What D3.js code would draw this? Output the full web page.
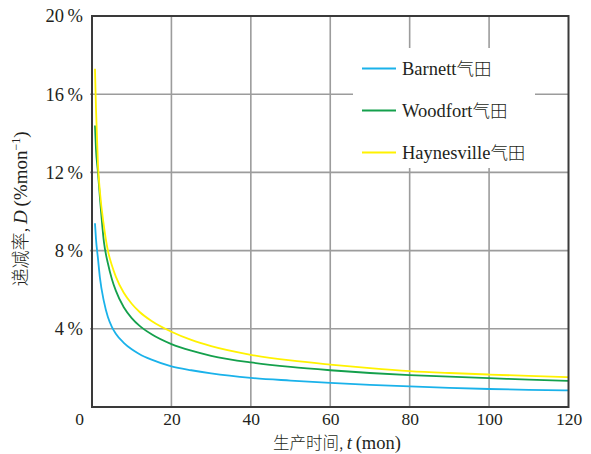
<!DOCTYPE html>
<html>
<head>
<meta charset="utf-8">
<script src="https://cdn.jsdelivr.net/npm/d3@7"></script>
<style>
  html, body { margin: 0; padding: 0; background: #fff; }
  svg { display: block; }
  svg text, svg tspan { font-family: "Liberation Serif", "DejaVu Serif", serif; fill: #231f20; }
  svg .cjk { font-family: "Noto Sans CJK SC", "Noto Sans CJK JP", sans-serif; font-weight: 300; }
</style>
</head>
<body>
<svg id="chart" width="591" height="454"></svg>
<script>
// Production time (months)
const months = [0.75, 1, 1.5, 2, 3, 4, 5, 6, 8, 10, 12, 15, 20, 25, 30, 40, 50, 60, 70, 80, 90, 100, 110, 120];

// Decline rate D (%/mon) for each gas field
const barnett     = [9.4, 8.6, 7.6, 6.6, 5.4, 4.6, 4.1, 3.75, 3.28, 2.95, 2.70, 2.42, 2.08, 1.88, 1.72, 1.49, 1.35, 1.23, 1.13, 1.05, 0.98, 0.92, 0.88, 0.85];
const woodfort    = [14.4, 13.2, 12.0, 10.7, 8.45, 7.35, 6.55, 5.95, 5.1, 4.55, 4.15, 3.72, 3.22, 2.88, 2.62, 2.28, 2.05, 1.88, 1.74, 1.63, 1.55, 1.48, 1.40, 1.34];
const haynesville = [17.3, 15.3, 12.4, 11.0, 9.25, 8.0, 7.25, 6.67, 5.84, 5.28, 4.86, 4.40, 3.85, 3.43, 3.11, 2.67, 2.38, 2.17, 1.99, 1.84, 1.74, 1.66, 1.59, 1.53];

const seriesNames = ["Barnett气田", "Woodfort气田", "Haynesville气田"];
const seriesColors = ["#1ab2ea", "#14a04c", "#fff200"];
const seriesValues = [barnett, woodfort, haynesville];

const xTicks = [0, 20, 40, 60, 80, 100, 120];
const yTicks = [0, 4, 8, 12, 16, 20];

const svg = d3.select("#chart");
const plotL = 92, plotR = 568.5, plotT = 16, plotB = 407;

const x = d3.scaleLinear().domain([0, 120]).range([plotL, plotR]);
const y = d3.scaleLinear().domain([0, 20]).range([plotB, plotT]);

// Grid lines
const grid = svg.append("g");
grid.selectAll("line.gx").data(xTicks.slice(1, -1)).join("line")
  .attr("x1", d => x(d)).attr("x2", d => x(d))
  .attr("y1", plotT).attr("y2", plotB)
  .attr("stroke", "#9c9c9c").attr("stroke-width", 1.6);
grid.selectAll("line.gy").data(yTicks.slice(1, -1)).join("line")
  .attr("x1", plotL - 2).attr("x2", plotR)
  .attr("y1", d => y(d)).attr("y2", d => y(d))
  .attr("stroke", "#9c9c9c").attr("stroke-width", 1.6);

// Legend backdrop hides the grid behind it
svg.append("rect")
  .attr("x", 353).attr("y", 48).attr("width", 182).attr("height", 120)
  .attr("fill", "#fff");

// Decline curves
const line = d3.line()
  .x((d, i) => x(months[i]))
  .y(d => y(d))
  .curve(d3.curveMonotoneX);

svg.append("g").selectAll("path").data(seriesValues).join("path")
  .attr("d", d => line(d))
  .attr("fill", "none")
  .attr("stroke", (d, i) => seriesColors[i])
  .attr("stroke-width", 1.8);

// Frame
svg.append("rect")
  .attr("x", plotL).attr("y", plotT)
  .attr("width", plotR - plotL).attr("height", plotB - plotT)
  .attr("fill", "none").attr("stroke", "#3a3a3a").attr("stroke-width", 2);

// Axes (labels only; frame drawn above)
const xAxis = d3.axisBottom(x).tickValues(xTicks).tickSize(0).tickPadding(5.5);
const gx = svg.append("g").attr("transform", `translate(0,${plotB})`).call(xAxis);
gx.select(".domain").remove();
gx.selectAll("text")
  .attr("font-size", 17.5)
  .attr("dx", d => d === 0 ? -13 : 0);

const yAxis = d3.axisLeft(y).tickValues(yTicks.slice(1)).tickSize(0).tickPadding(9)
  .tickFormat(d => d + "\u2009%");
const gy = svg.append("g").attr("transform", `translate(${plotL},0)`).call(yAxis);
gy.select(".domain").remove();
gy.selectAll("text").attr("font-size", 18.5);

// Axis titles
const xt = svg.append("text")
  .attr("x", 337).attr("y", 449)
  .attr("text-anchor", "middle").attr("font-size", 18.5);
xt.append("tspan").attr("class", "cjk").attr("font-size", 16.5).text("生产时间, ");
xt.append("tspan").attr("font-style", "italic").text("t");
xt.append("tspan").text("\u2009(mon)");

const yt = svg.append("text")
  .attr("transform", "translate(27,209) rotate(-90)")
  .attr("text-anchor", "middle").attr("font-size", 19);
yt.append("tspan").attr("class", "cjk").attr("font-size", 18).text("递减率, ");
yt.append("tspan").attr("font-style", "italic").text("D");
yt.append("tspan").text("\u2009(%mon");
yt.append("tspan").attr("font-size", 12).attr("dy", -7).text("−1");
yt.append("tspan").attr("dy", 7).text(")");

// Legend
const legend = svg.append("g");
const rows = legend.selectAll("g").data(seriesNames).join("g")
  .attr("transform", (d, i) => `translate(0,${68.5 + i * 42})`);
rows.append("line")
  .attr("x1", 362).attr("x2", 396)
  .attr("stroke", (d, i) => seriesColors[i]).attr("stroke-width", 1.8);
rows.append("text")
  .attr("x", 402).attr("y", 0).attr("dy", "0.35em")
  .attr("font-size", 18.5)
  .each(function(d) {
    const m = d.match(/^(.*?)(气田)$/);
    const t = d3.select(this);
    t.append("tspan").text(m[1]);
    t.append("tspan").attr("class", "cjk").attr("font-size", 17.5).text(m[2]);
  });
</script>
</body>
</html>
